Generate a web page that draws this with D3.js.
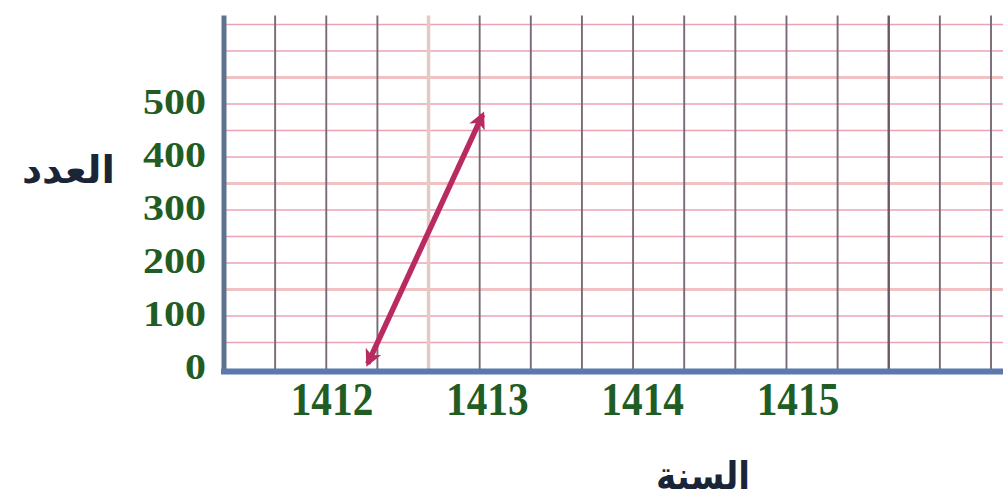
<!DOCTYPE html>
<html>
<head>
<meta charset="utf-8">
<script src="https://cdn.jsdelivr.net/npm/d3@7"></script>
<style>
  html, body { margin: 0; padding: 0; background: #ffffff; overflow: hidden; }
  svg { display: block; }
</style>
</head>
<body>
<svg id="chart" width="1003" height="502"></svg>
<script>
// Year labels along the bottom and count labels up the side
const years = [1412, 1413, 1414, 1415];
const countTicks = [0, 100, 200, 300, 400, 500];

// Graph-paper rulings: horizontal every 50 units, vertical columns 1..15
const gridValues = d3.range(50, 651, 50);
const gridColumns = d3.range(1, 16);
const paperTop = 667;

// The drawn double-headed arrow (year, count) at each end
const arrowYears = [1412.23, 1412.97];
const arrowCounts = [10, 480];

const xTitle = "السنة";
const yTitle = "العدد";

const W = 1003, H = 502;
const svg = d3.select("#chart");

const x = d3.scaleLinear().domain([1412, 1415]).range([332, 798]);
const y = d3.scaleLinear().domain([0, 650]).range([369, 24.5]);
const col = d3.scaleLinear().domain([0, 15]).range([224, 991]);

// ---- horizontal pink rulings
const heavyRows = new Set([150, 350, 550]);
svg.append("g")
  .selectAll("line")
  .data(gridValues)
  .join("line")
  .attr("x1", col(0))
  .attr("x2", W)
  .attr("y1", d => y(d))
  .attr("y2", d => y(d))
  .attr("stroke", d => heavyRows.has(d) ? "#f1c2c4" : "#eba3b4")
  .attr("stroke-width", d => heavyRows.has(d) ? 3 : 1.5);

// ---- vertical column rulings
svg.append("g")
  .selectAll("line")
  .data(gridColumns)
  .join("line")
  .attr("x1", d => col(d))
  .attr("x2", d => col(d))
  .attr("y1", y(paperTop))
  .attr("y2", y(0))
  .attr("stroke", d => d === 4 ? "#e3cbc5" : (d === 13 ? "#6a5865" : "#7a6976"))
  .attr("stroke-width", d => d === 4 ? 3.5 : (d === 13 ? 2.4 : 1.9));

// ---- axes lines
svg.append("line")
  .attr("x1", col(0)).attr("x2", col(0))
  .attr("y1", y(paperTop)).attr("y2", y(0) + 5)
  .attr("stroke", "#5f7390")
  .attr("stroke-width", 5);

svg.append("line")
  .attr("x1", col(0) - 3).attr("x2", W)
  .attr("y1", y(0) + 2.5).attr("y2", y(0) + 2.5)
  .attr("stroke", "#5b79ad")
  .attr("stroke-width", 6);

// ---- count labels
svg.append("g")
  .selectAll("text")
  .data(countTicks)
  .join("text")
  .attr("transform", d => `translate(206,${y(d) + 9.5}) scale(1.2,1)`)
  .attr("text-anchor", "end")
  .attr("font-family", "'Liberation Serif', 'Times New Roman', serif")
  .attr("font-weight", "bold")
  .attr("font-size", 35)
  .attr("fill", "#1f5d24")
  .text(d => d);

// ---- year labels
svg.append("g")
  .selectAll("text")
  .data(years)
  .join("text")
  .attr("transform", d => `translate(${x(d)},415) scale(0.88,1)`)
  .attr("text-anchor", "middle")
  .attr("font-family", "'Liberation Serif', 'Times New Roman', serif")
  .attr("font-weight", "bold")
  .attr("font-size", 47)
  .attr("fill", "#1f5d24")
  .text(d => d3.format("d")(d));

// ---- axis titles
svg.append("text")
  .attr("x", 115).attr("y", 183)
  .attr("text-anchor", "start")
  .attr("direction", "rtl")
  .attr("font-family", "'DejaVu Sans', sans-serif")
  .attr("font-weight", "bold")
  .attr("font-size", 38)
  .attr("textLength", 93)
  .attr("lengthAdjust", "spacingAndGlyphs")
  .attr("fill", "#1b2538")
  .text(yTitle);

svg.append("text")
  .attr("x", 750).attr("y", 489)
  .attr("text-anchor", "start")
  .attr("direction", "rtl")
  .attr("font-family", "'DejaVu Sans', sans-serif")
  .attr("font-weight", "bold")
  .attr("font-size", 38)
  .attr("textLength", 94)
  .attr("lengthAdjust", "spacingAndGlyphs")
  .attr("fill", "#1b2538")
  .text(xTitle);

// ---- double-headed arrow
const arrowColor = "#b82a60";
const defs = svg.append("defs");
defs.append("marker")
  .attr("id", "head")
  .attr("viewBox", "0 0 10 10")
  .attr("refX", 8)
  .attr("refY", 5)
  .attr("markerUnits", "userSpaceOnUse")
  .attr("markerWidth", 20)
  .attr("markerHeight", 17)
  .attr("orient", "auto-start-reverse")
  .append("path")
  .attr("d", "M0,0 L10,5 L0,10 L2.5,5 Z")
  .attr("fill", arrowColor);

const arrowPts = arrowYears.map((yr, i) => [x(yr), y(arrowCounts[i])]);
svg.append("path")
  .attr("d", d3.line()(arrowPts))
  .attr("fill", "none")
  .attr("stroke", arrowColor)
  .attr("stroke-width", 5.5)
  .attr("stroke-linecap", "butt")
  .attr("marker-start", "url(#head)")
  .attr("marker-end", "url(#head)");
</script>
</body>
</html>
